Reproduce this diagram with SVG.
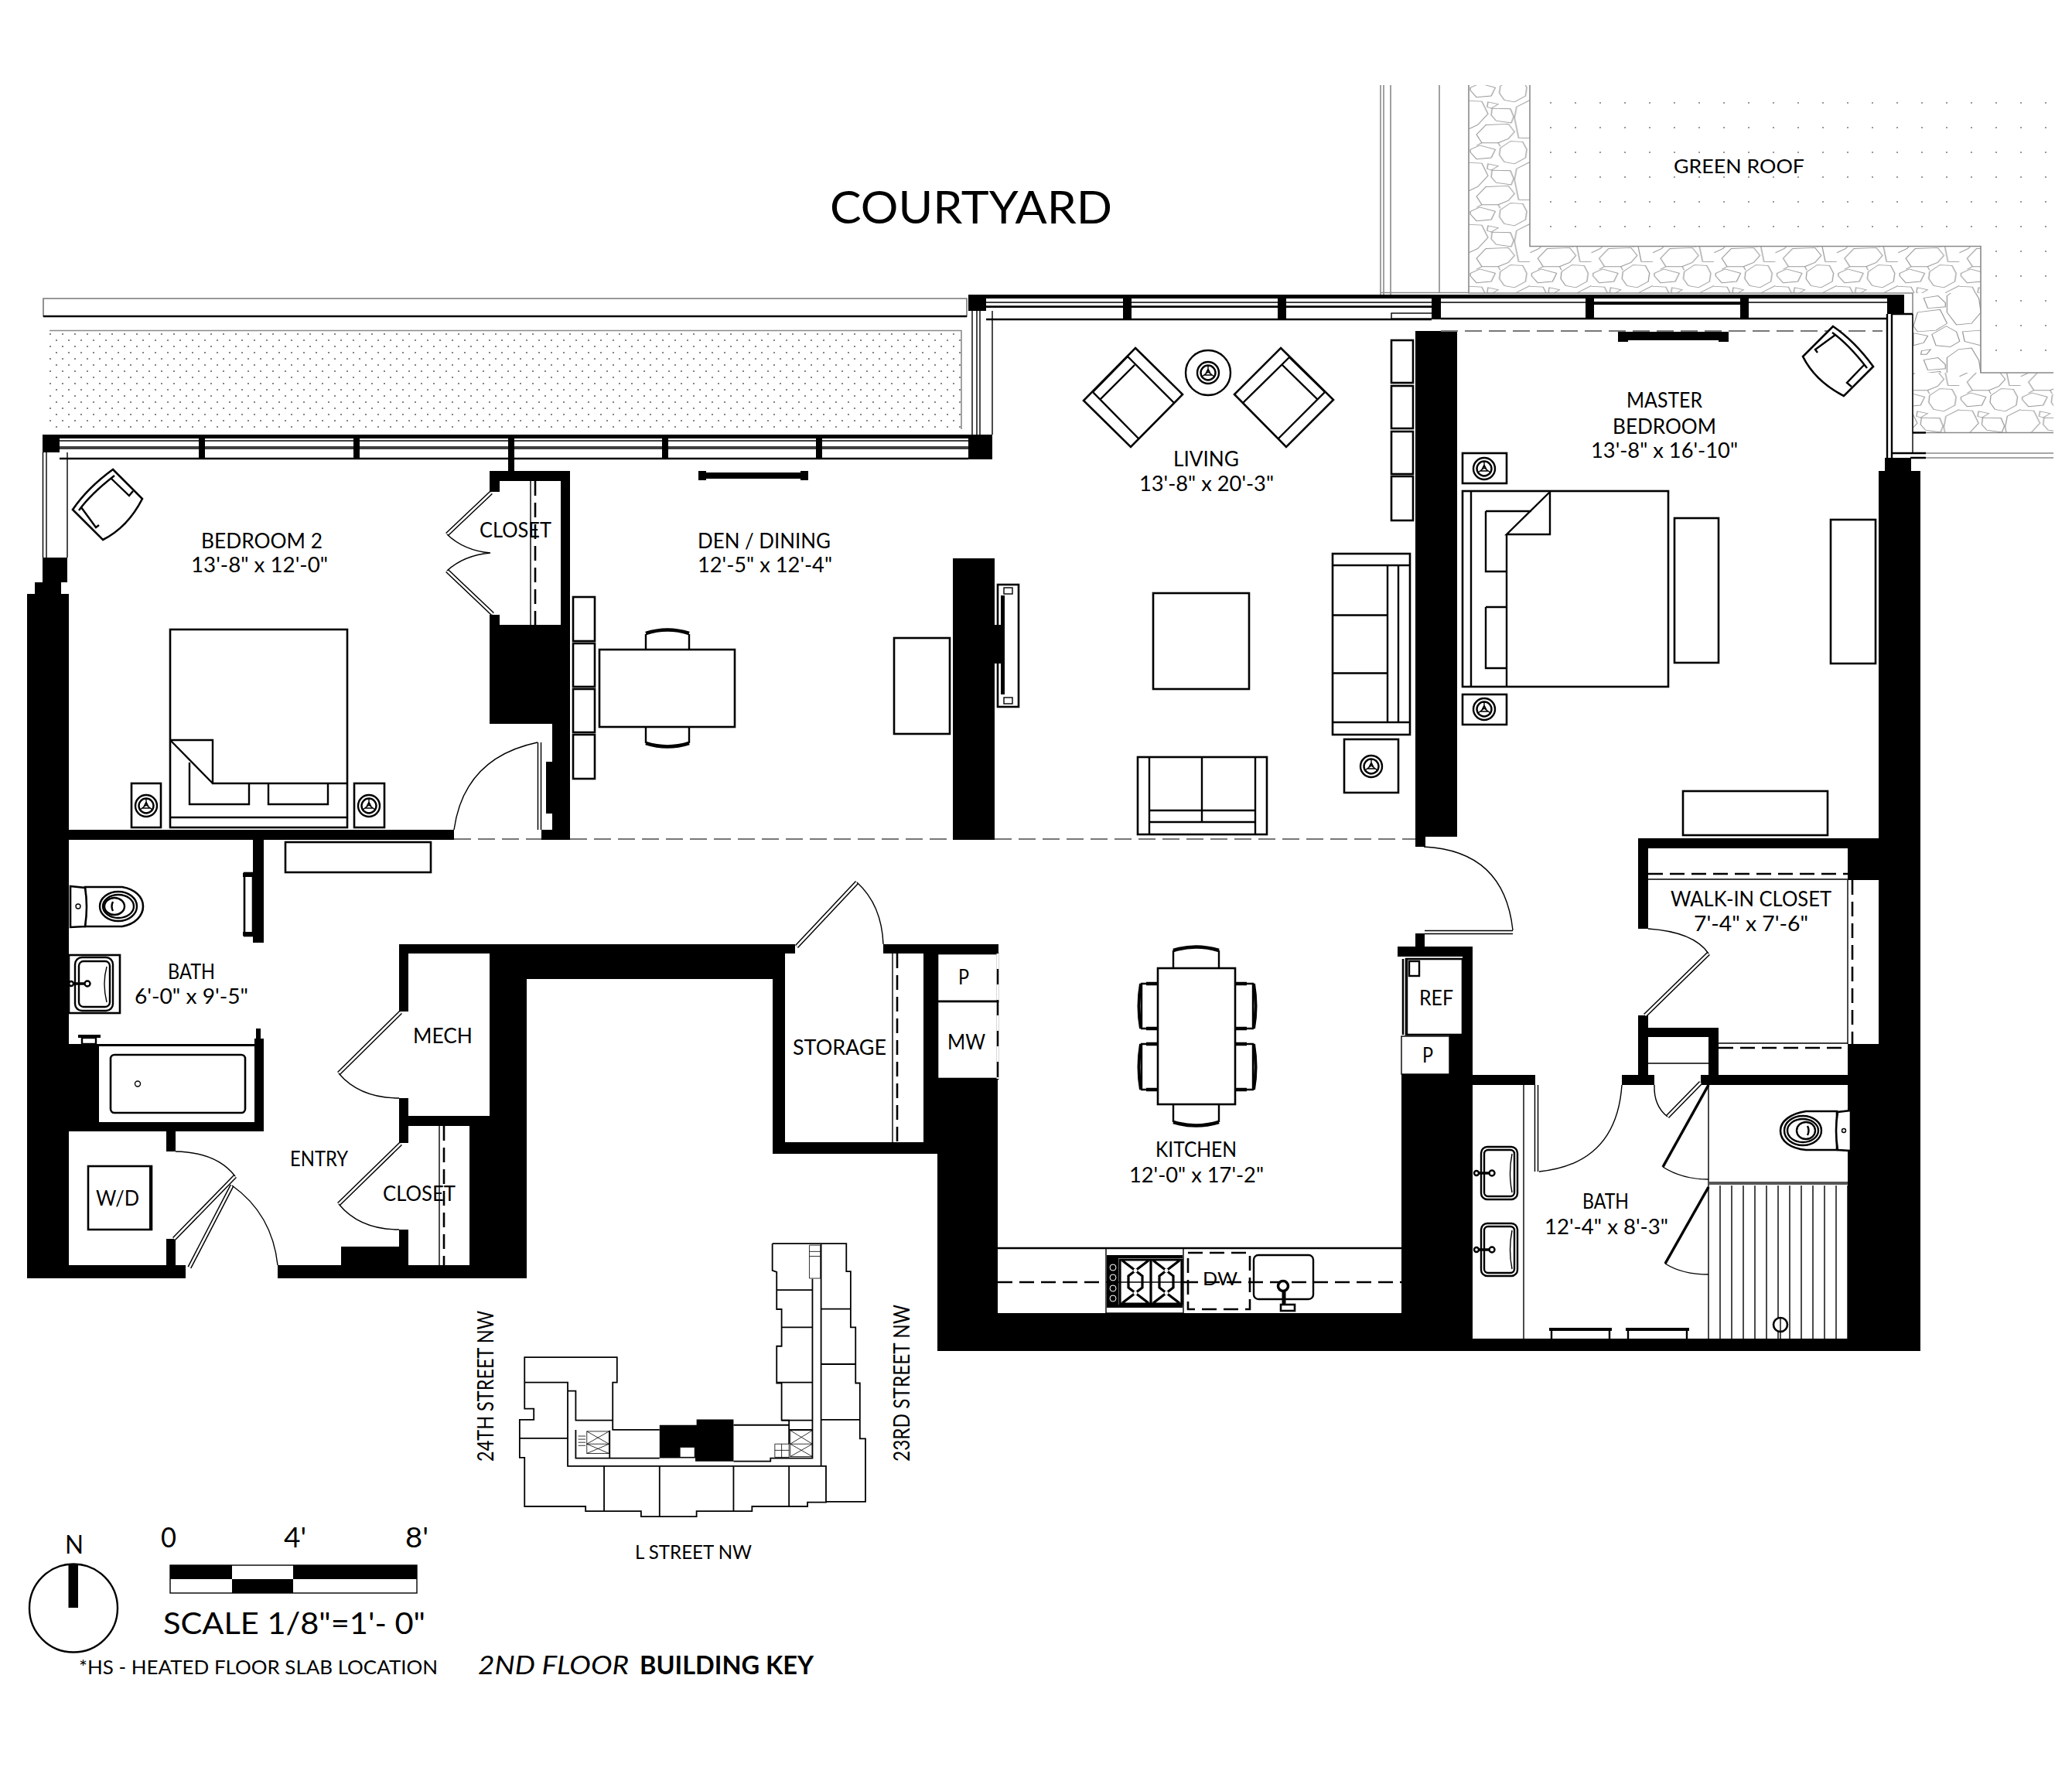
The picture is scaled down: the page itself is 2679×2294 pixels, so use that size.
<svg xmlns="http://www.w3.org/2000/svg" xmlns:xlink="http://www.w3.org/1999/xlink" width="2679" height="2294" viewBox="0 0 2679 2294">
<style>
.k{fill:#000;stroke:none}
.l{fill:none;stroke:#000;stroke-width:2.4}
.t{fill:none;stroke:#000;stroke-width:1.4}
.b{fill:#fff;stroke:#000;stroke-width:2.6}
.g{fill:none;stroke:#8a8a8a;stroke-width:1.6}
.dg{fill:none;stroke:#777;stroke-width:2;stroke-dasharray:22 9}
.dk{fill:none;stroke:#000;stroke-width:2.6;stroke-dasharray:19 9}
.lf1{fill:none;stroke:#000;stroke-width:5.5}
.lf2{fill:none;stroke:#fff;stroke-width:2.6}
text{font-family:Lato,"Liberation Sans",sans-serif;font-weight:400;fill:#000;font-size:27px}
.ns{vector-effect:non-scaling-stroke;fill:none;stroke:#000;stroke-width:1.8}
.st{fill:none;stroke:#999;stroke-width:2.4}
</style>
<defs>
<pattern id="dots1" patternUnits="userSpaceOnUse" x="57" y="424" width="16" height="16"><circle cx="8" cy="8" r="1.1" fill="#666"/><circle cx="0" cy="0" r="1.1" fill="#666"/><circle cx="16" cy="0" r="1.1" fill="#666"/><circle cx="0" cy="16" r="1.1" fill="#666"/><circle cx="16" cy="16" r="1.1" fill="#666"/></pattern>
<pattern id="dots2" patternUnits="userSpaceOnUse" x="1989" y="117" width="32" height="32"><circle cx="16" cy="16" r="1" fill="#777"/></pattern>
<g id="stone1">
<path d="M97,290L120,275L158,290L148,320L112,325L97,300Z"/>
<path d="M170,285L195,260L225,262L235,290L232,320L205,342L180,335L168,310Z"/>
<path d="M140,342L165,350L148,365L138,360Z"/>
<path d="M150,365L195,367L203,395L197,418L160,410L148,390Z"/>
<path d="M135,425L190,422L205,450L190,475L165,490L125,490L112,460Z"/>
<path d="M93,338L125,340L140,385L115,425L93,440M243,335L210,360L205,400L215,472L243,473M125,490L112,500M165,490L170,503"/>
</g>
<g id="stone2">
<path d="M1200,795L1222,790L1212,808L1198,808Z"/>
<path d="M1205,828L1240,820L1258,845L1258,860L1215,865Z"/>
<path d="M1262,820L1290,790L1322,785L1340,830L1345,880L1322,920L1285,925L1262,880Z"/>
<path d="M1190,880L1245,870L1262,920L1235,945L1190,950L1180,930Z"/>
<path d="M1225,960L1260,930L1285,950L1293,985L1270,1005L1235,1000Z"/>
<path d="M1180,955L1215,965L1205,990L1180,1000Z"/>
<path d="M1300,950L1345,945V1000L1305,985Z"/>
</g>
<pattern id="stones" patternUnits="userSpaceOnUse" x="1899" y="179" width="79.3" height="80">
<g transform="scale(.5287,.357) translate(-93,-250)" class="st">
<use xlink:href="#stone1"/><use xlink:href="#stone1" y="-224"/><use xlink:href="#stone1" y="224"/>
</g>
</pattern>
<pattern id="stones2" patternUnits="userSpaceOnUse" x="2473" y="370" width="88" height="80">
<g transform="scale(.5287,.357) translate(-1178,-785)" class="st">
<use xlink:href="#stone2"/><use xlink:href="#stone2" y="-224"/><use xlink:href="#stone2" y="224"/>
</g>
</pattern>
<g id="lamp"><circle class="l" r="14"/><circle class="l" r="9.5"/><path class="t" d="M0,-1V-9M0,-1L-8,5M0,-1L8,5M-4,3H4L0,-5Z"/></g>
<g id="chair">
<path class="b" d="M7,-45Q-26,-21 -45,7L-6,46Q26,30 45,-7Z"/>
<path class="l" d="M9,-37Q-22,-13 -37,8M4,-34L28,-11L33,-17M-34,4L-15,30L-11,27"/>
</g>
</defs>
<rect width="2679" height="2294" fill="#fff"/>

<g id="green-roof">
<path d="M1899,110H1978V318.5H2473V379H1899Z" fill="url(#stones)"/>
<path d="M2473,318.5H2561V379H2473Z" fill="url(#stones)"/>
<path d="M2473,379H2561V482H2473Z" fill="url(#stones2)"/>
<path d="M2473,482H2655V559.5H2473Z" fill="url(#stones)"/>
<path d="M1899,110V379H2473V559.5H2655M1978,110V318.5H2561V482H2655" class="g"/>
<path d="M2473,559.5H2490" class="l"/>
<path d="M1985,115H2655V470H2570V310H1985Z" fill="url(#dots2)"/>
<path d="M1785,110V381M1789,110V381M1798,110V381M1861,110V379M1785,378.5H1899" class="g"/>
<path d="M2473,586H2655M2473,592H2655" class="g"/>
<path d="M2446,586H2490M2470,592H2490" class="l"/>
</g>

<g id="balcony">
<path d="M56,386H1250V409H56Z" fill="#fff" stroke="#777" stroke-width="1.6"/>
<path d="M56,409H1250" class="l"/>
<rect x="64" y="427.5" width="1179" height="127.5" fill="url(#dots1)"/>
<path d="M64,427.5H1243V555" class="g"/>
</g>

<g id="windows">
<path d="M77,570H1252M77,578H1252M77,580H1252" class="t"/>
<path d="M77,593H1252" class="l"/>
<rect class="k" x="55" y="562" width="1228" height="5"/>
<path class="k" d="M257,562h8v31h-8zM457,562h8v31h-8zM657,562h8v47h-8zM856,562h8v31h-8zM1055,562h8v31h-8z"/>
<rect class="k" x="1252" y="562" width="31" height="32"/>
<path d="M55.5,585V721M60,585V721M87,585V721" class="t"/>
<path d="M1257,402V562M1263,402V562M1267,402V562M1283,402V562" class="t"/>
<rect class="k" x="1275" y="381" width="1165" height="5"/>
<path d="M1275,391H1851M1275,397H1851M1863,391H2440" class="t"/>
<path d="M1275,396.5H1851" class="l"/>
<rect class="k" x="2056" y="390" width="200" height="4"/>
<path d="M1275,413H1851M1863,412H2440" class="l"/>
<rect x="1799" y="405" width="53" height="7" fill="#fff" stroke="#000" stroke-width="1.4"/>
<path class="k" d="M1452,381h11v32h-11zM1652,381h11v32h-11zM1851,381h12v32h-12zM2050,381h11v32h-11zM2250,381h11v32h-11z"/>
<rect class="k" x="1252" y="381" width="23" height="21"/>
<rect class="k" x="2440" y="381" width="22" height="25"/>
<path d="M2440,406V593M2446,406V593M2473,406H2446" class="l"/>
<path d="M2473,406V586" class="t"/>
</g>

<g id="walls">
<path class="k" d="M35,768h54v885h-54zM45,753h34v15h-34zM55,721h32v32h-32zM55,562h22v23h-22z"/>
<path class="k" d="M89,1073h498v13h-498zM327,1086h14v133h-14z"/>
<path class="k" d="M633,609h104v13h-104zM633,622h13v14h-13zM725,622h12v464h-12zM633,808h92v128h-92zM633,795h13v13h-13zM714,936h11v137h-11zM700,1073h37v13h-37zM706,985h8v67h-8z"/>
<path class="k" d="M1232,722h54v364h-54z"/>
<path class="k" d="M329,1343h12v120h-12zM331,1330h6v13h-6zM89,1350h39v113h-39zM89,1451h252v12h-252zM215,1463h12v26h-12zM215,1602h12v35h-12zM35,1636h205v17h-205z"/>
<path class="k" d="M359,1636h322v17h-322zM441,1612h75v24h-75zM516,1590h12v46h-12zM528,1640h80v13h-80zM607,1443h26v210h-26z"/>
<path class="k" d="M516,1221h512v12h-512zM516,1233h12v75h-12zM516,1420h12v58h-12zM516,1443h117v13h-117zM633,1233h48v420h-48zM633,1233h366v33h-366zM999,1233h16v259h-16z"/>
<path class="k" d="M999,1477h213v15h-213zM1194,1221h18v271h-18zM1142,1221h149v12h-149zM1194,1395h96v97h-96zM1212,1395h78v352h-78zM1212,1698h600v49h-600zM1812,1389h92v358h-92zM1874,1339h30v50h-30zM1891,1224h13v115h-13zM1807,1224h84v13h-84z"/>
<path class="k" d="M1830,1207h12v17h-12zM1830,1082h13v13h-13zM1830,428h54v654h-54z"/>
<path class="k" d="M1904,1731h579v16h-579zM1904,1390h81v13h-81zM2097,1390h42v13h-42zM2199,1390h230v13h-230zM2389,1350h40v397h-40zM2429,609h54v1138h-54zM2437,592h34v17h-34z"/>
<path class="k" d="M2118,1084h311v13h-311zM2118,1097h13v104h-13zM2389,1097h40v41h-40zM2118,1313h13v77h-13zM2118,1329h104v12h-104zM2209,1329h13v61h-13z"/>
<path d="M587,1085H700M737,1085H1232M1286,1085H1830" class="dg" stroke-dasharray="18 7"/>
<path d="M1863,428H2434" class="dg"/>
</g>

<g id="doors-closets">
<path d="M635,637L578,691M578,738L637,794" class="lf1"/><path d="M635,637L578,691M578,738L637,794" class="lf2"/>
<path d="M578,691Q600,712 634,715Q600,718 578,738" class="t"/>
<path d="M686,622V808" class="t"/><path d="M692,622V808" class="dk"/>
<path d="M697.5,960V1073" class="lf1"/><path d="M697.5,960V1073" class="lf2"/>
<path d="M695,960Q600,980 587,1073" class="t"/>
<path d="M304,1521L225,1602" class="lf1"/><path d="M304,1521L225,1602" class="lf2"/>
<path d="M227,1489Q280,1490 304,1521" class="t"/>
<path d="M300,1533L245,1639" class="lf1"/><path d="M300,1533L245,1639" class="lf2"/>
<path d="M300,1533Q352,1570 359,1636" class="t"/>
<path d="M518,1309L438,1388" class="lf1"/><path d="M518,1309L438,1388" class="lf2"/>
<path d="M438,1388Q465,1420 516,1420" class="t"/>
<path d="M518,1479L438,1557" class="lf1"/><path d="M518,1479L438,1557" class="lf2"/>
<path d="M438,1557Q465,1590 516,1590" class="t"/>
<path d="M568,1456V1640" class="t"/><path d="M574,1456V1640" class="dk"/>
<path d="M1030,1224L1108,1141" class="lf1"/><path d="M1030,1224L1108,1141" class="lf2"/>
<path d="M1108,1141Q1140,1170 1142,1221" class="t"/>
<path d="M1154,1233V1477" class="t"/><path d="M1160,1233V1477" class="dk"/>
<path d="M1842,1205.5H1956" class="lf1"/><path d="M1842,1205.5H1956" class="lf2"/>
<path d="M1841,1095Q1945,1100 1956,1203" class="t"/>
<path d="M2209,1233L2127,1313" class="lf1"/><path d="M2209,1233L2127,1313" class="lf2"/>
<path d="M2131,1201Q2190,1205 2209,1233" class="t"/>
<path d="M2131,1137H2389M2389,1138V1350M2222,1349H2389" class="t"/>
<path d="M2131,1130H2389M2395,1138V1350M2222,1355H2389" class="dk"/>
<path d="M2131,1375H2209" class="t"/>
<path d="M1986.5,1403V1515" class="lf1"/><path d="M1986.5,1403V1515" class="lf2"/>
<path d="M1990,1515Q2090,1505 2097,1403" class="t"/>
<path d="M2156,1444L2199,1400" class="lf1"/><path d="M2156,1444L2199,1400" class="lf2"/>
<path d="M2139,1403Q2138,1430 2156,1444" class="t"/>
<path d="M2209,1403V1731M1970,1403V1731" class="t"/>
<path d="M2209,1403L2150,1509" stroke="#000" stroke-width="3.5" fill="none"/>
<path d="M2150,1509Q2175,1525 2209,1525" class="t"/>
<path d="M2209,1535L2153,1634" stroke="#000" stroke-width="3.5" fill="none"/>
<path d="M2153,1634Q2175,1648 2209,1648" class="t"/>
<path d="M2209,1530H2389" stroke="#555" stroke-width="4" fill="none"/>
<path d="M2224,1533V1731M2239,1533V1731M2254,1533V1731M2269,1533V1731M2284,1533V1731M2299,1533V1731M2314,1533V1731M2329,1533V1731M2344,1533V1731M2359,1533V1731M2374,1533V1731M2389,1533V1731" class="t"/>
<circle cx="2302" cy="1713" r="9" class="b" stroke-width="2"/><path d="M2302,1704V1731" class="t"/>
</g>

<g id="bedroom2-furniture">
<use xlink:href="#chair" transform="translate(139,652)"/>
<rect class="b" x="220" y="814" width="229" height="256"/>
<path class="l" d="M220,1057H449M220,957H275V1013H449M220,957L275,1013M245,986V1040H322V1013M347,1013V1040H424V1013"/>
<rect class="b" x="170" y="1013" width="38" height="57"/><use xlink:href="#lamp" transform="translate(189,1042)"/>
<rect class="b" x="458" y="1013" width="39" height="57"/><use xlink:href="#lamp" transform="translate(477,1042)"/>
</g>

<g id="den-furniture">
<path class="k" d="M903,609h10v12h-10zM1035,609h10v12h-10zM913,611h122v8h-122z"/>
<rect class="b" x="741" y="772" width="28" height="57"/><rect class="b" x="741" y="832" width="28" height="56"/><rect class="b" x="741" y="891" width="28" height="56"/><rect class="b" x="741" y="950" width="28" height="57"/>
<path class="l" d="M835,840V820M891,840V820M835,941V961M891,941V961"/>
<path d="M835,819Q863,810 891,819M835,961Q863,970 891,961" fill="none" stroke="#000" stroke-width="4.5"/>
<rect class="b" x="775" y="840" width="175" height="100"/>
<rect class="b" x="1156" y="825" width="72" height="124"/>
<rect class="b" x="369" y="1089" width="188" height="39"/>
</g>

<g id="living-furniture">
<path class="b" d="M1468,450L1529,510L1462,578L1401,518Z"/>
<path class="l" d="M1458,461L1518,521M1467,472L1423,516M1413,507L1472,567M1458,461L1413,507"/>
<path class="b" d="M1656,450L1724,517L1663,578L1596,510Z"/>
<path class="l" d="M1667,462L1607,521M1658,472L1703,516M1713,507L1653,567M1667,462L1713,507"/>
<circle class="l" cx="1562" cy="482" r="29"/><use xlink:href="#lamp" transform="translate(1562,482)"/>
<rect class="b" x="1799" y="440" width="28" height="55"/><rect class="b" x="1799" y="499" width="28" height="55"/><rect class="b" x="1799" y="558" width="28" height="55"/><rect class="b" x="1799" y="616" width="28" height="57"/>
<rect class="b" x="1290" y="756" width="27" height="158"/>
<rect class="k" x="1294" y="770" width="5" height="128"/><rect class="k" x="1286" y="808" width="8" height="50"/>
<rect class="t" x="1298" y="760" width="11" height="8"/><rect class="t" x="1298" y="902" width="11" height="8"/>
<rect class="b" x="1491" y="767" width="124" height="124"/>
<rect class="b" x="1723" y="716" width="100" height="234"/>
<path class="l" d="M1723,731H1823M1723,934H1823M1794,731V934M1808,731V934M1723,795.5H1794M1723,870.5H1794"/>
<rect class="b" x="1738" y="956" width="70" height="69"/><use xlink:href="#lamp" transform="translate(1773,991)"/>
<rect class="b" x="1471" y="979" width="167" height="100"/>
<path class="l" d="M1486,979V1079M1623,979V1079M1486,1063H1623M1486,1048H1623M1554,979V1063"/>
</g>

<g id="master-furniture">
<path class="k" d="M2092,429h143v13h-13v-2h-117v2h-13z"/><rect class="k" x="2092" y="429" width="143" height="10"/>
<use xlink:href="#chair" transform="translate(2377,467) rotate(90)"/>
<rect class="b" x="1891" y="635" width="266" height="253"/>
<path class="l" d="M1902,635V888M1948,691V888M2004,636V691H1948L2004,636M1921,661H1980M1921,661V739H1948M1921,785H1948M1921,785V864H1948"/>
<rect class="b" x="1891" y="586" width="57" height="39"/><use xlink:href="#lamp" transform="translate(1919,606)"/>
<rect class="b" x="1891" y="898" width="57" height="39"/><use xlink:href="#lamp" transform="translate(1919,917)"/>
<rect class="b" x="2165" y="670" width="57" height="187"/>
<rect class="b" x="2367" y="672" width="58" height="186"/>
<rect class="b" x="2176" y="1023" width="187" height="57"/>
</g>

<g id="bath-fixtures">
<rect class="b" x="316" y="1129" width="11" height="81"/>
<path class="k" d="M314,1129h13v5h-13zM314,1205h13v5h-13z"/>
<path class="b" d="M110,1147H158C175,1150 185,1160 185,1172C185,1184 175,1195 158,1198H110Z"/>
<path class="b" d="M91,1146L110,1148Q114,1172 110,1198L91,1199Z"/>
<circle class="t" cx="101" cy="1172" r="3"/>
<ellipse class="l" cx="153" cy="1172" rx="24" ry="19"/><ellipse class="l" cx="153" cy="1172" rx="20" ry="15"/><ellipse class="l" cx="148" cy="1172" rx="13" ry="11"/><path class="l" d="M146,1166Q143,1172 146,1178"/>
<rect class="b" x="89" y="1235" width="66" height="75" stroke-width="2"/>
<rect class="l" x="97" y="1238" width="49" height="69" rx="9"/><rect class="l" x="102" y="1243" width="40" height="59" rx="6"/><path class="t" d="M138,1250Q132,1272 138,1296"/>
<circle class="l" cx="92" cy="1272" r="3"/><circle class="l" cx="113" cy="1272" r="3.5"/><path d="M95,1272H110" stroke="#000" stroke-width="3.5"/>
<rect class="k" x="101" y="1338" width="29" height="4"/><rect class="l" x="106" y="1342" width="18" height="8"/>
<rect x="128" y="1350" width="201" height="101" fill="#fff"/><path d="M128,1351.5H329" stroke="#000" stroke-width="3"/>
<rect class="b" x="143" y="1364" width="174" height="75" rx="5"/>
<circle class="t" cx="178" cy="1401.5" r="3.5" stroke-width="2"/>
<rect class="b" x="114" y="1508" width="82" height="82"/><rect class="k" x="193" y="1508" width="3.5" height="82"/>
<path class="b" d="M2375,1437H2335C2315,1440 2302,1450 2302,1462C2302,1476 2315,1485 2335,1487H2375Z"/>
<path class="b" d="M2393,1436L2376,1438Q2372,1462 2376,1487L2393,1488Z"/>
<circle class="t" cx="2384" cy="1462" r="2.5"/>
<ellipse class="l" cx="2331" cy="1462" rx="24" ry="19"/><ellipse class="l" cx="2331" cy="1462" rx="20" ry="15"/><ellipse class="l" cx="2335" cy="1462" rx="12" ry="11"/><path class="l" d="M2337,1456Q2340,1462 2337,1468"/>
<rect class="l" x="1915" y="1483" width="47" height="68" rx="8"/><rect class="l" x="1919" y="1487" width="39" height="60" rx="5"/><path class="t" d="M1955,1492Q1950,1517 1955,1542"/>
<circle class="l" cx="1909" cy="1517" r="3" /><circle class="l" cx="1929" cy="1517" r="3.5"/><path d="M1912,1517H1926" stroke="#000" stroke-width="3.5"/>
<rect class="l" x="1915" y="1582" width="47" height="68" rx="8"/><rect class="l" x="1919" y="1586" width="39" height="60" rx="5"/><path class="t" d="M1955,1591Q1950,1616 1955,1641"/>
<circle class="l" cx="1909" cy="1616" r="3"/><circle class="l" cx="1929" cy="1616" r="3.5"/><path d="M1912,1616H1926" stroke="#000" stroke-width="3.5"/>
<path class="l" d="M2006,1720V1731M2081,1720V1731M2105,1720V1731M2181,1720V1731"/>
<path d="M2003,1719H2084M2102,1719H2184" stroke="#000" stroke-width="4" fill="none"/>
</g>

<g id="kitchen">
<rect class="b" x="1212" y="1233" width="78" height="62"/>
<rect class="b" x="1212" y="1295" width="78" height="100"/>
<path d="M1290,1233V1395" stroke="#fff" stroke-width="3" stroke-dasharray="20 20" fill="none"/>
<path class="l" d="M1517,1252V1229M1576,1252V1229M1517,1428V1451M1576,1428V1451M1497,1272H1476V1330H1497M1497,1350H1476V1409H1497M1597,1272H1620V1330H1597M1597,1350H1620V1409H1597"/>
<path d="M1517,1229Q1546,1220 1576,1229M1517,1451Q1546,1460 1576,1451M1497,1272H1482M1497,1330H1482M1497,1350H1482M1497,1409H1482M1597,1272H1612M1597,1330H1612M1597,1350H1612M1597,1409H1612" fill="none" stroke="#000" stroke-width="4.5"/>
<path d="M1475,1272Q1470,1301 1475,1330M1475,1350Q1470,1380 1475,1409M1621,1272Q1626,1301 1621,1330M1621,1350Q1626,1380 1621,1409" fill="none" stroke="#000" stroke-width="4"/>
<rect class="b" x="1497" y="1252" width="100" height="176"/>
<path d="M1290,1614H1812" class="l"/>
<rect class="t" x="1430" y="1614" width="100" height="84"/>
<rect class="k" x="1431" y="1623" width="98" height="4"/><rect class="k" x="1431" y="1687" width="98" height="4"/>
<rect class="k" x="1431" y="1627" width="15" height="60"/>
<circle cx="1439" cy="1639" r="4" fill="#000" stroke="#fff"/><circle cx="1439" cy="1652" r="4" fill="#000" stroke="#fff"/><circle cx="1439" cy="1666" r="4" fill="#000" stroke="#fff"/><circle cx="1439" cy="1679" r="4" fill="#000" stroke="#fff"/>
<path d="M1448,1629H1528V1686H1448ZM1488,1629V1686M1451,1630L1468,1643L1485,1630M1451,1685L1468,1672L1485,1685M1491,1630L1508,1643L1525,1630M1491,1685L1508,1672L1525,1685M1468,1643L1459,1650V1665L1468,1672L1477,1665V1650ZM1508,1643L1499,1650V1665L1508,1672L1517,1665V1650Z" fill="none" stroke="#000" stroke-width="3.2"/>
<g fill="#fff"><circle cx="1468" cy="1643" r="2.5"/><circle cx="1468" cy="1672" r="2.5"/><circle cx="1508" cy="1643" r="2.5"/><circle cx="1508" cy="1672" r="2.5"/></g>
<path d="M1290,1658H1430M1530,1658H1812" class="dk"/>
<path d="M1430,1658H1530" fill="none" stroke="#000" stroke-width="1.6"/>
<rect x="1536" y="1620" width="80" height="73" class="dk"/>
<rect class="l" x="1621" y="1623" width="77" height="57" rx="6"/>
<circle cx="1659" cy="1663" r="6.5" fill="#fff" stroke="#000" stroke-width="3.5"/>
<path d="M1660,1669V1691" stroke="#000" stroke-width="5"/>
<rect x="1656" y="1687" width="18" height="8" class="b" stroke-width="2"/>
<rect class="b" x="1818" y="1240" width="73" height="98"/>
<path d="M1814,1240V1338" stroke="#000" stroke-width="2.5"/><path d="M1819,1240V1338" stroke="#000" stroke-width="2.5"/>
<rect class="l" x="1822" y="1243" width="13" height="19"/>
<rect class="t" x="1812" y="1340" width="62" height="49" fill="#fff"/>
</g>

<g id="key-plan" transform="translate(0,1600) scale(.797,.408)">
<path class="ns" d="M1253,20H1373V108H1380V285H1388V462H1395V638H1404V838H1340V840H1310V853H1220V868H1130V885H1040V868H950V853H851V698H843V578H866V543H851V380H1001V460H994V610H1070M1190,595H1280V580H1268V462H1260V345H1268V228H1260V110L1253,105V20"/>
<path class="ns" d="M851,460H921V725H1340V838M921,487H934V580H994M934,610V700H1070M1190,710H1250V700H1318V610H1280M1318,700V132M1332,725V20M1280,595V655M1260,167H1318M1268,285H1318M1260,460H1318M1268,580H1318M1332,227H1380M1332,402H1388M1332,578H1395M843,637H921M980,725V868M1070,725V885M1190,725V868M1280,725V853M1340,725V838M989,612V698"/>
<path d="M1070,595H1130V577H1190V710H1128V700H1070Z" fill="#000"/>
<rect x="1103" y="665" width="24" height="32" fill="#fff" stroke="#000" vector-effect="non-scaling-stroke"/>
<path class="ns" style="stroke-width:.8" d="M952,615H988V685H952ZM952,655H988M952,615L988,655M988,615L952,655M952,655L988,685M988,655L952,685M938,630H950M938,640H950M938,650H950M938,660H950M1282,612H1318V695H1282ZM1282,655H1318M1282,612L1318,655M1318,612L1282,655M1282,655L1318,695M1318,655L1282,695M1257,655H1280V697H1257ZM1257,675H1280M1268,655V697M1313,25H1331V130H1313ZM1313,45H1331M1313,60H1331"/>
</g>

<g id="legend">
<ellipse cx="95" cy="2079.5" rx="57" ry="57" class="l" stroke-width="2"/>
<rect class="k" x="88.5" y="2022" width="12.5" height="57"/>
<rect x="220" y="2024" width="319" height="36" fill="#fff" stroke="#000" stroke-width="1.4"/>
<path class="k" d="M220,2024h80v18h-80zM379,2024h160v18h-160zM300,2042h79v18h-79z"/>
</g>

<g id="labels">
<text x="1073" y="289" style="font-size:58px" textLength="365" lengthAdjust="spacingAndGlyphs">COURTYARD</text>
<text x="2164" y="224" style="font-size:25px" textLength="169" lengthAdjust="spacingAndGlyphs">GREEN ROOF</text>
<text x="260" y="709" textLength="157" lengthAdjust="spacingAndGlyphs">BEDROOM 2</text>
<text x="247" y="740" textLength="177" lengthAdjust="spacingAndGlyphs">13'-8" x 12'-0"</text>
<text x="620" y="695" textLength="93" lengthAdjust="spacingAndGlyphs">CLOSET</text>
<text x="902" y="709" textLength="172" lengthAdjust="spacingAndGlyphs">DEN / DINING</text>
<text x="902" y="740" textLength="174" lengthAdjust="spacingAndGlyphs">12'-5" x 12'-4"</text>
<text x="1517" y="603" textLength="85" lengthAdjust="spacingAndGlyphs">LIVING</text>
<text x="1473" y="635" textLength="174" lengthAdjust="spacingAndGlyphs">13'-8" x 20'-3"</text>
<text x="2103" y="527" textLength="98" lengthAdjust="spacingAndGlyphs">MASTER</text>
<text x="2085" y="561" textLength="134" lengthAdjust="spacingAndGlyphs">BEDROOM</text>
<text x="2057" y="592" textLength="190" lengthAdjust="spacingAndGlyphs">13'-8" x 16'-10"</text>
<text x="217" y="1266" textLength="61" lengthAdjust="spacingAndGlyphs">BATH</text>
<text x="174" y="1298" textLength="147" lengthAdjust="spacingAndGlyphs">6'-0" x 9'-5"</text>
<text x="534" y="1349" textLength="77" lengthAdjust="spacingAndGlyphs">MECH</text>
<text x="375" y="1508" textLength="75" lengthAdjust="spacingAndGlyphs">ENTRY</text>
<text x="495" y="1553" textLength="94" lengthAdjust="spacingAndGlyphs">CLOSET</text>
<text x="124" y="1559" textLength="56" lengthAdjust="spacingAndGlyphs">W/D</text>
<text x="1025" y="1364" textLength="121" lengthAdjust="spacingAndGlyphs">STORAGE</text>
<text x="1239" y="1273" textLength="14" lengthAdjust="spacingAndGlyphs">P</text>
<text x="1225" y="1357" textLength="49" lengthAdjust="spacingAndGlyphs">MW</text>
<text x="1839" y="1374" textLength="14" lengthAdjust="spacingAndGlyphs">P</text>
<text x="1835" y="1300" textLength="44" lengthAdjust="spacingAndGlyphs">REF</text>
<text x="1494" y="1496" textLength="105" lengthAdjust="spacingAndGlyphs">KITCHEN</text>
<text x="1460" y="1529" textLength="174" lengthAdjust="spacingAndGlyphs">12'-0" x 17'-2"</text>
<text x="1555" y="1662" style="font-size:24px" textLength="45" lengthAdjust="spacingAndGlyphs">DW</text>
<text x="2046" y="1563" textLength="60" lengthAdjust="spacingAndGlyphs">BATH</text>
<text x="1997" y="1596" textLength="160" lengthAdjust="spacingAndGlyphs">12'-4" x 8'-3"</text>
<text x="2160" y="1172" textLength="208" lengthAdjust="spacingAndGlyphs">WALK-IN CLOSET</text>
<text x="2190" y="1204" textLength="148" lengthAdjust="spacingAndGlyphs">7'-4" x 7'-6"</text>
<text transform="translate(638,1890) rotate(-90)" style="font-size:29px" textLength="195" lengthAdjust="spacingAndGlyphs">24TH STREET NW</text>
<text transform="translate(1176,1890) rotate(-90)" style="font-size:29px" textLength="203" lengthAdjust="spacingAndGlyphs">23RD STREET NW</text>
<text x="821" y="2016" style="font-size:25px" textLength="151" lengthAdjust="spacingAndGlyphs">L STREET NW</text>
<text x="84" y="2009" style="font-size:33px" textLength="24" lengthAdjust="spacingAndGlyphs">N</text>
<text x="208" y="2001" style="font-size:36px" textLength="20" lengthAdjust="spacingAndGlyphs">0</text>
<text x="367" y="2001" style="font-size:36px" textLength="29" lengthAdjust="spacingAndGlyphs">4'</text>
<text x="524" y="2001" style="font-size:36px" textLength="30" lengthAdjust="spacingAndGlyphs">8'</text>
<text x="211" y="2113" style="font-size:38px" textLength="339" lengthAdjust="spacingAndGlyphs">SCALE 1/8"=1'- 0"</text>
<text x="102" y="2165" style="font-size:25px" textLength="464" lengthAdjust="spacingAndGlyphs">*HS - HEATED FLOOR SLAB LOCATION</text>
<text x="618" y="2165" style="font-size:33px;font-style:italic" textLength="195" lengthAdjust="spacingAndGlyphs">2ND FLOOR</text>
<text x="827" y="2165" style="font-size:33px;font-weight:700" textLength="225" lengthAdjust="spacingAndGlyphs">BUILDING KEY</text>
</g>
</svg>
